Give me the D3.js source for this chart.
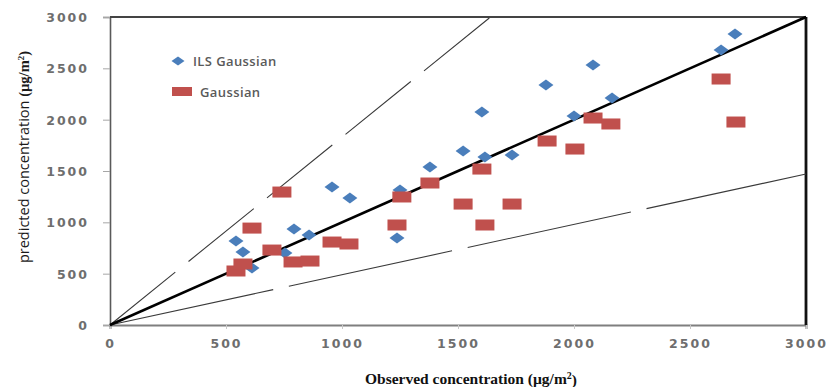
<!DOCTYPE html>
<html>
<head>
<meta charset="utf-8">
<script src="https://cdnjs.cloudflare.com/ajax/libs/d3/7.8.5/d3.min.js"></script>
<style>
   body { margin: 0; background: #fff; }
   svg { display: block; }
   .tick text { font-family: "DejaVu Sans", sans-serif; font-weight: bold; font-size: 12.5px; letter-spacing: 2px; fill: #6e6e6e; }
   .legend text { font-family: "Open Sans", sans-serif; font-weight: 600; font-size: 13px; letter-spacing: 0.4px; fill: #5a5a5a; }
</style>
</head>
<body>
<svg></svg>
<script>
// data
var seriesNames = ["ILS Gaussian", "Gaussian"];

var ilsObserved  = [543, 573, 612, 754, 793, 858, 957, 1034, 1237, 1250, 1379, 1522, 1603, 1616, 1733, 1879, 2000, 2082, 2164, 2634, 2694];
var ilsPredicted = [818, 711, 555, 701, 935, 877, 1344, 1237, 847, 1315, 1539, 1695, 2075, 1636, 1656, 2338, 2036, 2532, 2211, 2678, 2834];

var gaussObserved  = [543, 573, 612, 698, 741, 789, 862, 957, 1030, 1237, 1258, 1379, 1522, 1603, 1616, 1733, 1884, 2004, 2082, 2159, 2634, 2698];
var gaussPredicted = [526, 594, 944, 730, 1295, 614, 623, 808, 789, 974, 1247, 1383, 1178, 1519, 974, 1178, 1792, 1714, 2016, 1958, 2396, 1977];

// 1:1 line and the two dashed envelope lines (start / end points)
var oneToOne   = [[0, 0], [3000, 3000]];
var upperLine  = [[0, 0], [1640, 3000]];
var lowerLine  = [[0, 0], [3000, 1470]];

var xTicks = [0, 500, 1000, 1500, 2000, 2500, 3000];
var yTicks = [0, 500, 1000, 1500, 2000, 2500, 3000];

var margin = {top: 17, right: 27, bottom: 62, left: 110},
    width = 833 - margin.left - margin.right,
    height = 387 - margin.top - margin.bottom;

var svg = d3.select("svg")
   .attr("width", 833)
   .attr("height", 387);

var g = svg.append("g")
   .attr("transform", "translate(" + margin.left + "," + margin.top + ")");

var x = d3.scaleLinear().domain([0, 3000]).range([0, width]);
var y = d3.scaleLinear().domain([0, 3000]).range([height, 0]);

var line = d3.line()
   .x(function(d) { return x(d[0]); })
   .y(function(d) { return y(d[1]); });

// axes
var xAxis = g.append("g")
   .attr("transform", "translate(0," + height + ")")
   .call(d3.axisBottom(x).tickValues(xTicks).tickFormat(d3.format("d")).tickSize(4).tickPadding(13));

var yAxis = g.append("g")
   .call(d3.axisLeft(y).tickValues(yTicks).tickFormat(d3.format("d")).tickSize(7).tickPadding(14));

xAxis.select(".domain").attr("stroke", "#7f7f7f").attr("stroke-width", 2);
yAxis.select(".domain").attr("stroke", "#595959").attr("stroke-width", 1.6);
xAxis.selectAll(".tick line").attr("stroke", "#c8c8c8");
yAxis.selectAll(".tick line").attr("stroke", "#a6a6a6");
xAxis.selectAll(".tick text").attr("dy", "0.5em");
yAxis.selectAll(".tick text").attr("dy", "0.36em");

// frame top + right
g.append("line")
   .attr("x1", x(0)).attr("x2", x(3000))
   .attr("y1", y(3000)).attr("y2", y(3000))
   .attr("stroke", "#444").attr("stroke-width", 2.2);

g.append("line")
   .attr("x1", x(3000)).attr("x2", x(3000))
   .attr("y1", y(3000)).attr("y2", y(0))
   .attr("stroke", "#111").attr("stroke-width", 2.8);

// reference lines
g.append("path")
   .datum(upperLine)
   .attr("d", line)
   .attr("fill", "none")
   .attr("stroke", "#3a3a3a")
   .attr("stroke-width", 1.1)
   .attr("stroke-dasharray", "84,17");

g.append("path")
   .datum(lowerLine)
   .attr("d", line)
   .attr("fill", "none")
   .attr("stroke", "#3a3a3a")
   .attr("stroke-width", 1.1)
   .attr("stroke-dasharray", "167,16");

g.append("path")
   .datum(oneToOne)
   .attr("d", line)
   .attr("fill", "none")
   .attr("stroke", "#000")
   .attr("stroke-width", 2.6);

// markers
var diamond = "M0,-5.5L7.5,0L0,5.5L-7.5,0Z";

g.append("g")
   .selectAll("path")
   .data(ilsObserved)
   .enter().append("path")
   .attr("d", diamond)
   .attr("transform", function(d, i) { return "translate(" + x(d) + "," + y(ilsPredicted[i]) + ")"; })
   .attr("fill", "#4a7ebb");

g.append("g")
   .selectAll("rect")
   .data(gaussObserved)
   .enter().append("rect")
   .attr("x", function(d) { return x(d) - 9.5; })
   .attr("y", function(d, i) { return y(gaussPredicted[i]) - 5.5; })
   .attr("width", 19)
   .attr("height", 11)
   .attr("fill", "#c0504d");

// legend
var legend = svg.append("g").attr("class", "legend");

legend.append("path")
   .attr("d", "M0,-4.5L6.5,0L0,4.5L-6.5,0Z")
   .attr("transform", "translate(178,61)")
   .attr("fill", "#4a7ebb");
legend.append("text")
   .attr("x", 193).attr("y", 61).attr("dy", "0.35em")
   .text(seriesNames[0]);

legend.append("rect")
   .attr("x", 172).attr("y", 87)
   .attr("width", 20).attr("height", 9)
   .attr("fill", "#c0504d");
legend.append("text")
   .attr("x", 200).attr("y", 92).attr("dy", "0.35em")
   .text(seriesNames[1]);

// axis titles
var yTitle = svg.append("text")
   .attr("transform", "translate(29,157) rotate(-90)")
   .attr("text-anchor", "middle")
   .attr("fill", "#1a1a1a");
yTitle.append("tspan")
   .style("font-family", "'Open Sans', sans-serif")
   .style("font-size", "14.5px")
   .text("predicted concentration ");
yTitle.append("tspan")
   .style("font-family", "'Liberation Serif', serif")
   .style("font-weight", "bold")
   .style("font-size", "14.5px")
   .text("(µg/m");
yTitle.append("tspan")
   .style("font-family", "'Liberation Serif', serif")
   .style("font-weight", "bold")
   .style("font-size", "9px")
   .attr("dy", "-0.6em")
   .text("2");
yTitle.append("tspan")
   .style("font-family", "'Liberation Serif', serif")
   .style("font-weight", "bold")
   .style("font-size", "14.5px")
   .attr("dy", "0.4em")
   .text(")");

var xTitle = svg.append("text")
   .attr("x", 471).attr("y", 384)
   .attr("text-anchor", "middle")
   .attr("fill", "#111")
   .style("font-family", "'Liberation Serif', serif")
   .style("font-weight", "bold")
   .style("font-size", "15.5px");
xTitle.append("tspan").text("Observed concentration (µg/m");
xTitle.append("tspan").attr("dy", "-0.55em").style("font-size", "10px").text("2");
xTitle.append("tspan").attr("dy", "0.4em").text(")");
</script>
</body>
</html>
